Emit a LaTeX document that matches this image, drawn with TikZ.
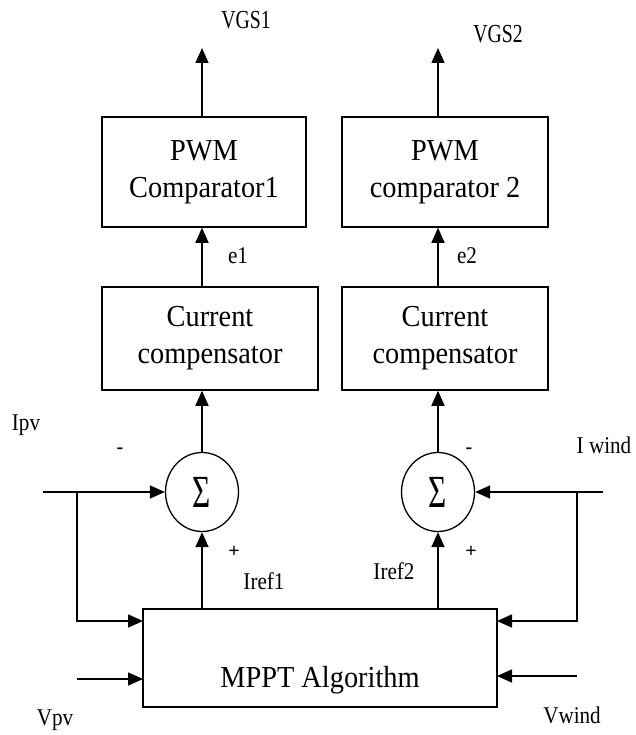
\documentclass[tikz,border=0pt]{standalone}
\usepackage{fontspec}
\usepackage{graphicx}
\setmainfont{Liberation Serif}
\newfontfamily\boxfont{Liberation Serif}[FakeStretch=0.93]
\newfontfamily\lblfont{Liberation Serif}[FakeStretch=0.88]
\newfontfamily\vgsfont{Liberation Serif}[FakeStretch=0.76]
\usetikzlibrary{arrows.meta,shapes.geometric}
\begin{document}
\begin{tikzpicture}[x=1pt,y=-1pt,
  blk/.style={draw,line width=1.5pt,rectangle,inner sep=0pt,align=center,font=\boxfont\fontsize{30.5}{37}\selectfont},
  sumnode/.style={draw,line width=1.3pt,ellipse,minimum width=73pt,minimum height=79pt,inner sep=0pt,font=\fontsize{46}{46}\selectfont},
  arr/.style={line width=1.5pt,-{Triangle[length=15pt,width=13pt]}},
  lbl/.style={inner sep=0pt,font=\lblfont\fontsize{24}{24}\selectfont},
  vgs/.style={inner sep=0pt,font=\vgsfont\fontsize{26}{26}\selectfont},
  sgn/.style={inner sep=0pt,font=\fontsize{20}{20}\selectfont\bfseries}]
\useasboundingbox (0,0) rectangle (635,735);
% blocks
\node[blk,minimum width=204pt,minimum height=110pt] (pwm1) at (204,172) {PWM\\Comparator1};
\node[blk,minimum width=206pt,minimum height=110pt] (pwm2) at (445,172) {PWM\\comparator 2};
\node[blk,minimum width=216pt,minimum height=103pt] (cc1) at (210,338.5) {Current\\compensator};
\node[blk,minimum width=206pt,minimum height=103pt] (cc2) at (445,338.5) {Current\\compensator};
\node[sumnode] (s1) at (202,492) {\scalebox{0.68}[1]{Σ}};
\node[sumnode] (s2) at (438,492) {\scalebox{0.68}[1]{Σ}};
\node[blk,minimum width=354pt,minimum height=98pt] (mppt) at (320,658) {};
\node[inner sep=0pt,anchor=base,font=\boxfont\fontsize{30.5}{37}\selectfont] (tmppt) at (320,687) {MPPT Algorithm};
% coordinates
\coordinate (vg1) at (202,48);
\coordinate (vg2) at (438,48);
\coordinate (ipv) at (43,492);
\coordinate (b1) at (77,492);
\coordinate (m1) at (143,621);
\coordinate (vpv) at (77,679);
\coordinate (m2) at (143,679);
\coordinate (iw) at (603,492);
\coordinate (b2) at (577,492);
\coordinate (m3) at (497,621);
\coordinate (vw) at (577,676);
\coordinate (m4) at (497,676);
% connectors column 1
\draw[arr] (s1 |- pwm1.north) -- (vg1);
\draw[arr] (s1 |- cc1.north) -- (s1 |- pwm1.south);
\draw[arr] (s1.north) -- (s1 |- cc1.south);
\draw[arr] (s1 |- mppt.north) -- (s1.south);
% connectors column 2
\draw[arr] (s2 |- pwm2.north) -- (vg2);
\draw[arr] (s2 |- cc2.north) -- (s2 |- pwm2.south);
\draw[arr] (s2.north) -- (s2 |- cc2.south);
\draw[arr] (s2 |- mppt.north) -- (s2.south);
% inputs
\draw[arr] (ipv) -- (s1.west);
\draw[arr] (b1) |- (m1);
\draw[arr] (vpv) -- (m2);
\draw[arr] (iw) -- (s2.east);
\draw[arr] (b2) |- (m3);
\draw[arr] (vw) -- (m4);
% labels
\node[vgs] (tvg1) at (246,20) {VGS1};
\node[vgs] (tvg2) at (498,34) {VGS2};
\node[lbl] (te1) at (238,256) {e1};
\node[lbl] (te2) at (467,256) {e2};
\node[lbl] (tipv) at (26,425) {Ipv};
\node[sgn] (m1s) at (120,451) {-};
\node[sgn] (p1s) at (234,552) {+};
\node[lbl] (tir1) at (264,581) {Iref1};
\node[sgn] (m2s) at (469,451) {-};
\node[sgn] (p2s) at (471,552) {+};
\node[lbl] (tir2) at (394,571) {Iref2};
\node[lbl] (tiw) at (604,445) {I wind};
\node[lbl] (tvw) at (572,715) {Vwind};
\node[lbl] (tvpv) at (55,720) {Vpv};
\end{tikzpicture}
\end{document}
